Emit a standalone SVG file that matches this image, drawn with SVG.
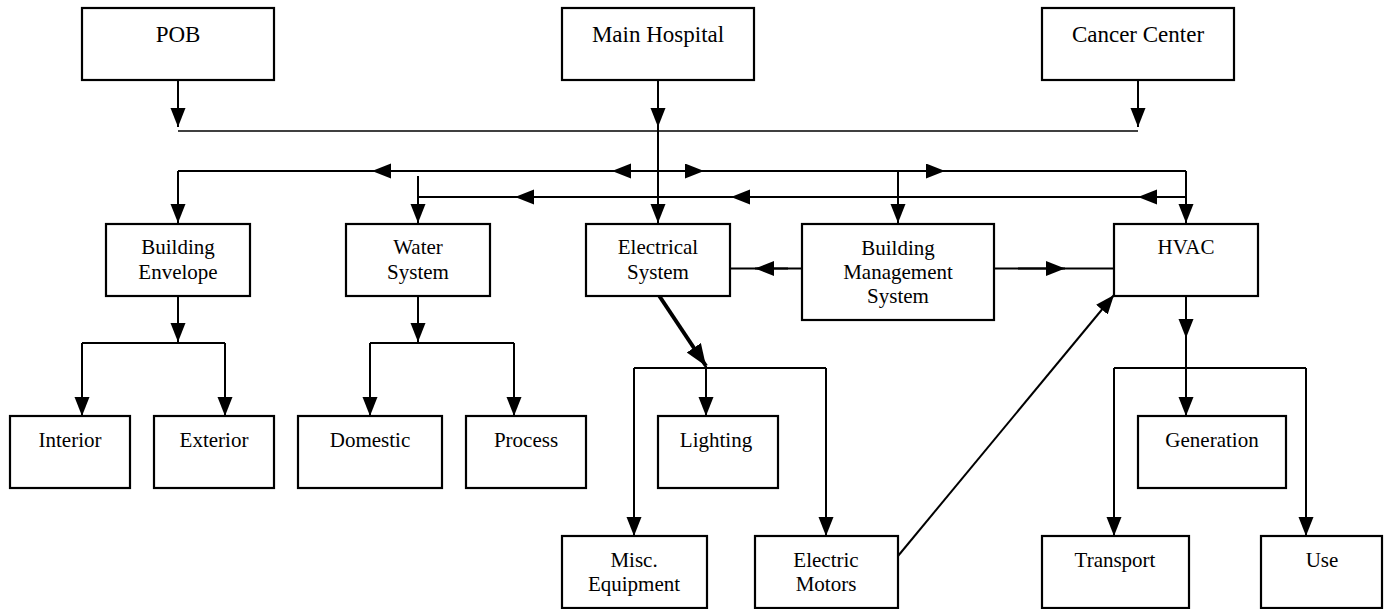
<svg xmlns="http://www.w3.org/2000/svg" width="1384" height="609" viewBox="0 0 1384 609">
<style>
  .box { fill: #fff; stroke: #000; stroke-width: 2.2; }
  .t { font-family: "Liberation Serif", "Times New Roman", serif; fill: #000; text-anchor: middle; }
  .top { font-size: 23px; }
  .mid { font-size: 21px; }
  .c { fill: none; stroke: #000; stroke-width: 2; }
  .thin { fill: none; stroke: #000; stroke-width: 1.6; }
  .thick { fill: none; stroke: #000; stroke-width: 4; }
</style>
<defs>
  <marker id="ah" markerUnits="userSpaceOnUse" markerWidth="20" markerHeight="16" refX="19" refY="7.5" orient="auto">
    <path d="M0,0 L19,7.5 L0,15 z" fill="#000"/>
  </marker>
  <marker id="ahb" markerUnits="userSpaceOnUse" markerWidth="24" markerHeight="18" refX="22" refY="8.5" orient="auto">
    <path d="M0,0 L22,8.5 L0,17 z" fill="#000"/>
  </marker>
</defs>
<rect width="1384" height="609" fill="#fff"/>

<g id="connectors">
  <!-- top sources -->
  <path class="c" d="M178,80 L178,127" marker-end="url(#ah)"/>
  <path class="c" d="M658,80 L658,127" marker-end="url(#ah)"/>
  <path class="c" d="M1138,80 L1138,127" marker-end="url(#ah)"/>
  <path class="thin" d="M178,131 L1138,131"/>
  <path class="c" d="M658,127 L658,223" marker-end="url(#ah)"/>

  <!-- distribution bus 1 -->
  <path class="c" d="M178,171 L1186,171"/>
  <path class="c" d="M178,171 L178,223" marker-end="url(#ah)"/>
  <path class="c" d="M1186,171 L1186,223" marker-end="url(#ah)"/>
  <path class="c" d="M898,171 L898,223" marker-end="url(#ah)"/>
  <path class="c" d="M402,171 L372,171" marker-end="url(#ah)"/>
  <path class="c" d="M642,171 L612,171" marker-end="url(#ah)"/>
  <path class="c" d="M674,171 L704,171" marker-end="url(#ah)"/>
  <path class="c" d="M915,171 L945,171" marker-end="url(#ah)"/>

  <!-- distribution bus 2 -->
  <path class="c" d="M418,197 L1186,197"/>
  <path class="c" d="M418,176 L418,223" marker-end="url(#ah)"/>
  <path class="c" d="M562,197 L515,197" marker-end="url(#ah)"/>
  <path class="c" d="M778,197 L731,197" marker-end="url(#ah)"/>
  <path class="c" d="M1170,197 L1138,197" marker-end="url(#ah)"/>

  <!-- BMS links -->
  <path class="c" d="M802,268.5 L730,268.5"/>
  <path class="c" d="M788,268.5 L755,268.5" marker-end="url(#ah)"/>
  <path class="c" d="M994,268.5 L1114,268.5"/>
  <path class="c" d="M1018,268.5 L1065,268.5" marker-end="url(#ah)"/>

  <!-- building envelope -->
  <path class="c" d="M178,296 L178,342" marker-end="url(#ah)"/>
  <path class="c" d="M82,343 L225,343"/>
  <path class="c" d="M82,343 L82,416" marker-end="url(#ah)"/>
  <path class="c" d="M225,343 L225,416" marker-end="url(#ah)"/>

  <!-- water system -->
  <path class="c" d="M418,296 L418,342" marker-end="url(#ah)"/>
  <path class="c" d="M370,343 L514,343"/>
  <path class="c" d="M370,343 L370,416" marker-end="url(#ah)"/>
  <path class="c" d="M514,343 L514,416" marker-end="url(#ah)"/>

  <!-- electrical -->
  <path class="thick" d="M658,294 L706,366" marker-end="url(#ahb)"/>
  <path class="c" d="M634,368 L826,368"/>
  <path class="c" d="M706,366 L706,416" marker-end="url(#ah)"/>
  <path class="c" d="M634,368 L634,536" marker-end="url(#ah)"/>
  <path class="c" d="M826,368 L826,536" marker-end="url(#ah)"/>

  <!-- motors to HVAC -->
  <path class="c" d="M898,556 L1114,295" marker-end="url(#ah)"/>

  <!-- HVAC -->
  <path class="c" d="M1186,296 L1186,338" marker-end="url(#ah)"/>
  <path class="c" d="M1186,336 L1186,416" marker-end="url(#ah)"/>
  <path class="c" d="M1114,368 L1306,368"/>
  <path class="c" d="M1114,368 L1114,536" marker-end="url(#ah)"/>
  <path class="c" d="M1306,368 L1306,536" marker-end="url(#ah)"/>
</g>

<g id="pob"><rect class="box" x="82" y="8" width="192" height="72"/><text class="t top" x="178" y="42">POB</text></g>
<g id="main-hospital"><rect class="box" x="562" y="8" width="192" height="72"/><text class="t top" x="658" y="42">Main Hospital</text></g>
<g id="cancer-center"><rect class="box" x="1042" y="8" width="192" height="72"/><text class="t top" x="1138" y="42">Cancer Center</text></g>

<g id="building-envelope"><rect class="box" x="106" y="224" width="144" height="72"/><text class="t mid" x="178" y="254">Building</text><text class="t mid" x="178" y="279">Envelope</text></g>
<g id="water-system"><rect class="box" x="346" y="224" width="144" height="72"/><text class="t mid" x="418" y="254">Water</text><text class="t mid" x="418" y="279">System</text></g>
<g id="electrical-system"><rect class="box" x="586" y="224" width="144" height="72"/><text class="t mid" x="658" y="254">Electrical</text><text class="t mid" x="658" y="279">System</text></g>
<g id="bms"><rect class="box" x="802" y="224" width="192" height="96"/><text class="t mid" x="898" y="255">Building</text><text class="t mid" x="898" y="279">Management</text><text class="t mid" x="898" y="303">System</text></g>
<g id="hvac"><rect class="box" x="1114" y="224" width="144" height="72"/><text class="t mid" x="1186" y="254">HVAC</text></g>

<g id="interior"><rect class="box" x="10" y="416" width="120" height="72"/><text class="t mid" x="70" y="447">Interior</text></g>
<g id="exterior"><rect class="box" x="154" y="416" width="120" height="72"/><text class="t mid" x="214" y="447">Exterior</text></g>
<g id="domestic"><rect class="box" x="298" y="416" width="144" height="72"/><text class="t mid" x="370" y="447">Domestic</text></g>
<g id="process"><rect class="box" x="466" y="416" width="120" height="72"/><text class="t mid" x="526" y="447">Process</text></g>
<g id="lighting"><rect class="box" x="658" y="416" width="120" height="72"/><text class="t mid" x="716" y="447">Lighting</text></g>
<g id="generation"><rect class="box" x="1138" y="416" width="148" height="72"/><text class="t mid" x="1212" y="447">Generation</text></g>

<g id="misc-equipment"><rect class="box" x="562" y="536" width="145" height="72"/><text class="t mid" x="634" y="567">Misc.</text><text class="t mid" x="634" y="591">Equipment</text></g>
<g id="electric-motors"><rect class="box" x="755" y="536" width="143" height="72"/><text class="t mid" x="826" y="567">Electric</text><text class="t mid" x="826" y="591">Motors</text></g>
<g id="transport"><rect class="box" x="1042" y="536" width="147" height="72"/><text class="t mid" x="1115" y="567">Transport</text></g>
<g id="use"><rect class="box" x="1261" y="536" width="121" height="72"/><text class="t mid" x="1322" y="567">Use</text></g>
</svg>
